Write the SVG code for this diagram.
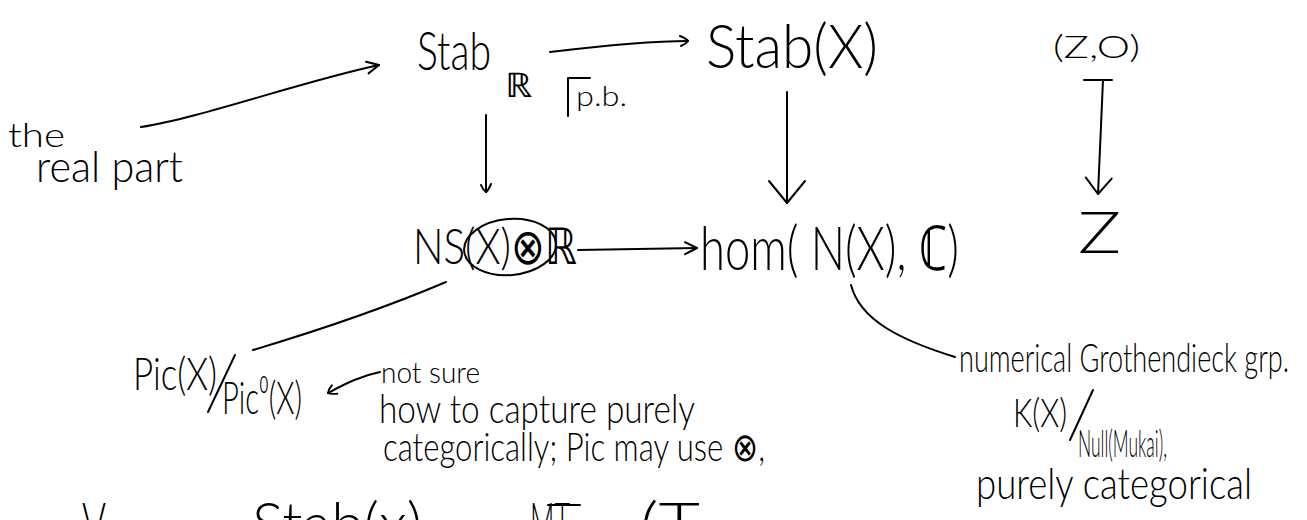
<svg xmlns="http://www.w3.org/2000/svg" width="1307" height="520" viewBox="0 0 1307 520">
<defs>
<style>
.t{font-family:Lato,"Liberation Sans","DejaVu Sans",sans-serif;font-weight:300;fill:#000}
.c{fill:none;stroke:#000;stroke-width:2;stroke-linecap:round;stroke-linejoin:round}
.h{fill:none;stroke:#000;stroke-width:2;stroke-linecap:round;stroke-linejoin:round}
</style>
<marker id="open" viewBox="0 0 16 16" refX="14" refY="8" markerWidth="16" markerHeight="16" markerUnits="userSpaceOnUse" orient="auto"><path class="h" d="M2 2 L14 8 L2 14"/></marker>
<marker id="small" viewBox="0 0 12 12" refX="10" refY="6" markerWidth="12" markerHeight="12" markerUnits="userSpaceOnUse" orient="auto"><path class="h" d="M2 1 Q9 4 10 6 Q8 9 3 11"/></marker>
<marker id="bigv" viewBox="0 0 26 40" refX="24" refY="20" markerWidth="26" markerHeight="40" markerUnits="userSpaceOnUse" orient="auto"><path class="h" d="M2 2 L24 20 L2 38"/></marker>
<marker id="midv" viewBox="0 0 20 30" refX="18" refY="15" markerWidth="20" markerHeight="30" markerUnits="userSpaceOnUse" orient="auto"><path class="h" d="M2 2 L18 15 L2 28"/></marker>
</defs>
<rect width="1307" height="520" fill="#fff"/>

<g id="connectors">
<path class="c" d="M141 127 C 200 118, 300 82, 379 65" marker-end="url(#open)"/>
<path class="c" d="M550 52 C 600 46, 650 41, 688 41" marker-end="url(#small)"/>
<path class="c" d="M486 115 L486 192" marker-end="url(#small)"/>
<path class="c" d="M787 92 L787 203" marker-end="url(#bigv)"/>
<path class="c" d="M1084 80 H1112 M1103 80 L1098 194" marker-end="url(#midv)"/>
<path class="c" d="M578 250 L697 248" marker-end="url(#open)"/>
<path class="c" d="M446 282 C 380 310, 320 330, 253 350"/>
<path class="c" d="M851 285 C 860 320, 900 340, 955 357"/>
<path class="c" d="M380 372 C 360 376, 345 384, 328 393" marker-end="url(#small)"/>
</g>

<g id="note-real-part">
<text class="t" x="8" y="147" font-size="34" textLength="57" lengthAdjust="spacingAndGlyphs">the</text>
<text class="t" x="36" y="182" font-size="44" textLength="147" lengthAdjust="spacingAndGlyphs">real part</text>
</g>

<g id="stab-r">
<text class="t" x="417" y="70" font-size="54" textLength="74" lengthAdjust="spacingAndGlyphs">Stab</text>
<text class="t" x="505" y="97" font-size="34" textLength="27" lengthAdjust="spacingAndGlyphs">ℝ</text>
</g>

<g id="pullback">
<path class="c" d="M590 78 H568 V116"/>
<text class="t" x="576" y="106" font-size="28" textLength="51" lengthAdjust="spacingAndGlyphs">p.b.</text>
</g>

<g id="stab-x">
<text class="t" x="706" y="68" font-size="62" textLength="172" lengthAdjust="spacingAndGlyphs">Stab(X)</text>
</g>

<g id="z-o">
<text class="t" x="1053" y="58" font-size="32" textLength="87" lengthAdjust="spacingAndGlyphs">(Z,O)</text>
</g>

<g id="ns">
<text class="t" x="413" y="264" font-size="50" textLength="164" lengthAdjust="spacingAndGlyphs">NS(X)⊗ℝ</text>
<ellipse class="c" cx="510" cy="247" rx="46" ry="28" transform="rotate(-5 510 247)"/>
</g>

<g id="hom">
<text class="t" x="700" y="270" font-size="62" textLength="259" lengthAdjust="spacingAndGlyphs">hom( N(X), ℂ)</text>
</g>

<g id="z">
<text class="t" x="1078" y="253" font-size="58" textLength="43" lengthAdjust="spacingAndGlyphs">Z</text>
</g>

<g id="pic">
<text class="t" x="133" y="390" font-size="46" textLength="84" lengthAdjust="spacingAndGlyphs">Pic(X)</text>
<path class="c" d="M235 355 L208 412"/>
<text class="t" x="222" y="414" font-size="46" textLength="80" lengthAdjust="spacingAndGlyphs">Pic⁰(X)</text>
</g>

<g id="note-not-sure">
<text class="t" x="381" y="383" font-size="30" textLength="99" lengthAdjust="spacingAndGlyphs">not sure</text>
<text class="t" x="379" y="423" font-size="40" textLength="316" lengthAdjust="spacingAndGlyphs">how to capture purely</text>
<text class="t" x="383" y="461" font-size="40" textLength="382" lengthAdjust="spacingAndGlyphs">categorically; Pic may use ⊗,</text>
</g>

<g id="note-grothendieck">
<text class="t" x="959" y="372" font-size="40" textLength="330" lengthAdjust="spacingAndGlyphs">numerical Grothendieck grp.</text>
<text class="t" x="1013" y="427" font-size="40" textLength="54" lengthAdjust="spacingAndGlyphs">K(X)</text>
<path class="c" d="M1093 390 L1070 440"/>
<text class="t" x="1078" y="457" font-size="38" textLength="89" lengthAdjust="spacingAndGlyphs">Null(Mukai),</text>
<text class="t" x="976" y="499" font-size="44" textLength="276" lengthAdjust="spacingAndGlyphs">purely categorical</text>
</g>

<g id="cut-line">
<text class="t" x="82" y="545" font-size="60" textLength="24" lengthAdjust="spacingAndGlyphs">V</text>
<text class="t" x="252" y="545" font-size="60" textLength="170" lengthAdjust="spacingAndGlyphs">Stab(x)</text>
<text class="t" x="530" y="545" font-size="60" textLength="40" lengthAdjust="spacingAndGlyphs">MT</text>
<path class="c" d="M548 505 H580"/>
<text class="t" x="640" y="545" font-size="60" textLength="60" lengthAdjust="spacingAndGlyphs">(T</text>
</g>
</svg>
